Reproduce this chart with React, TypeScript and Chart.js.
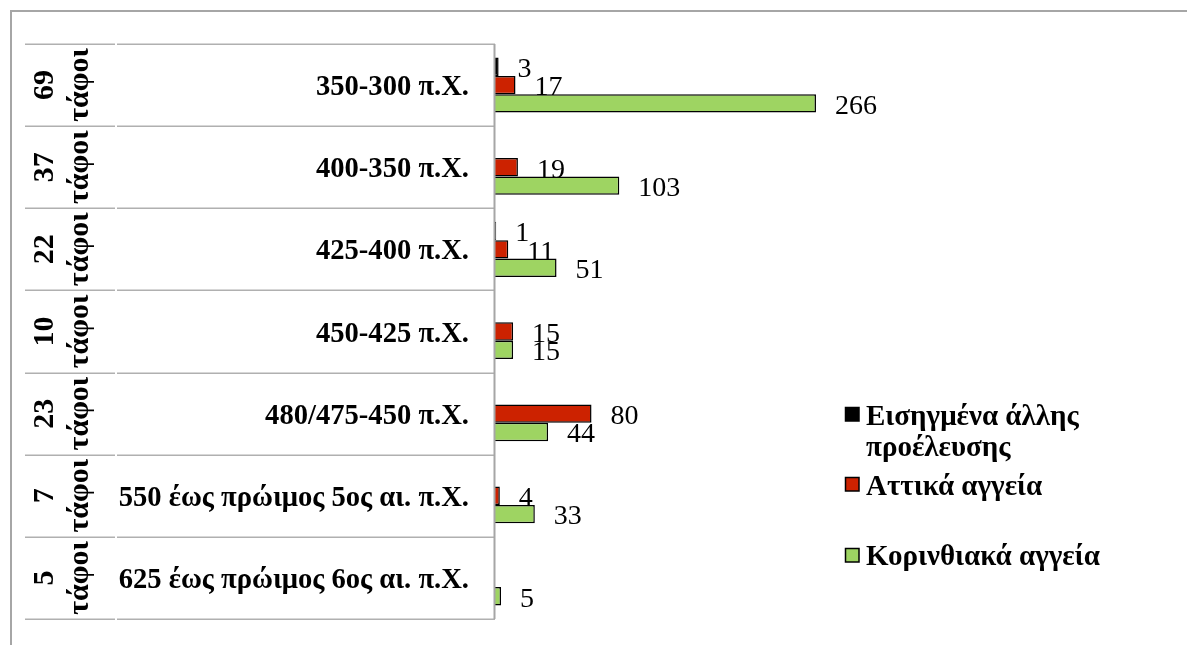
import React, { useEffect, useRef } from "react";
import { Chart, registerables } from "chart.js";

Chart.register(...registerables);

// ---- data ----
const periods = [
  "350-300 π.Χ.",
  "400-350 π.Χ.",
  "425-400 π.Χ.",
  "450-425 π.Χ.",
  "480/475-450 π.Χ.",
  "550 έως πρώιμος 5ος αι. π.Χ.",
  "625 έως πρώιμος 6ος αι. π.Χ.",
];
const tombCounts = ["69", "37", "22", "10", "23", "7", "5"];
const tombWord = "τάφοι";

const seriesNames = ["Εισηγμένα άλλης προέλευσης", "Αττικά αγγεία", "Κορινθιακά αγγεία"];
const legendLines = [["Εισηγμένα άλλης", "προέλευσης"], ["Αττικά αγγεία"], ["Κορινθιακά αγγεία"]];
const otherOrigin = [3, null, 1, null, null, null, null];
const atticVases = [17, 19, 11, 15, 80, 4, null];
const corinthianVases = [266, 103, 51, 15, 44, 33, 5];
const seriesColors = ["#000000", "#CC2200", "#9ED462"];
const xMax = 300;

const SERIF = '"Liberation Serif", "DejaVu Serif", serif';

const framePlugin = {
  id: "frameAndTable",
  afterDraw(chart: any) {
    const ctx = chart.ctx;
    const y = chart.scales.y;
    const area = chart.chartArea;
    ctx.save();
    // outer frame (top + left)
    ctx.strokeStyle = "#a6a6a6";
    ctx.lineWidth = 2;
    ctx.beginPath();
    ctx.moveTo(11, 645);
    ctx.lineTo(11, 11);
    ctx.lineTo(1187, 11);
    ctx.stroke();

    const n = periods.length;
    const c0 = y.getPixelForValue(0);
    const c1 = y.getPixelForValue(1);
    const half = (c1 - c0) / 2;

    // table lines
    ctx.strokeStyle = "#b0b0b0";
    ctx.lineWidth = 1.5;
    for (let i = 0; i <= n; i++) {
      const yy = Math.round(c0 - half + i * 2 * half) + 0.25;
      ctx.beginPath();
      ctx.moveTo(25, yy);
      ctx.lineTo(115, yy);
      ctx.moveTo(117, yy);
      ctx.lineTo(area.left, yy);
      ctx.stroke();
    }
    // axis line
    ctx.strokeStyle = "#a6a6a6";
    ctx.lineWidth = 2;
    ctx.beginPath();
    ctx.moveTo(area.left - 0.5, area.top);
    ctx.lineTo(area.left - 0.5, area.bottom);
    ctx.stroke();

    // labels
    ctx.fillStyle = "#000";
    for (let i = 0; i < n; i++) {
      const cy = y.getPixelForValue(i);
      ctx.font = `bold 28.6px ${SERIF}`;
      ctx.textAlign = "right";
      ctx.textBaseline = "alphabetic";
      ctx.fillText(periods[i], 469, cy + 10);
      ctx.save();
      ctx.font = `bold 30px ${SERIF}`;
      ctx.translate(0, cy);
      ctx.rotate(-Math.PI / 2);
      ctx.textAlign = "center";
      ctx.fillText(tombCounts[i], 0, 53);
      ctx.fillText(tombWord, 0, 88);
      ctx.restore();
    }

    // value labels
    ctx.font = `28px ${SERIF}`;
    ctx.textAlign = "left";
    ctx.textBaseline = "middle";
    chart.data.datasets.forEach((ds: any, di: number) => {
      const meta = chart.getDatasetMeta(di);
      meta.data.forEach((el: any, i: number) => {
        const v = ds.data[i];
        if (v === null || v === undefined) return;
        ctx.fillText(String(v), el.x + 19, el.y + 3);
      });
    });

    // legend
    const items = [
      { sq: 407, lines: [425, 456] },
      { sq: 477, lines: [495] },
      { sq: 548, lines: [565] },
    ];
    ctx.font = `bold 29px ${SERIF}`;
    ctx.textBaseline = "alphabetic";
    items.forEach((it, k) => {
      ctx.fillStyle = seriesColors[k];
      ctx.fillRect(845, it.sq, 14, 14);
      ctx.strokeStyle = "#000";
      ctx.lineWidth = 1.5;
      ctx.strokeRect(845.5, it.sq + 0.5, 13.5, 13.5);
      ctx.fillStyle = "#000";
      legendLines[k].forEach((t, j) => ctx.fillText(t, 866, it.lines[j]));
    });
    ctx.restore();
  },
};

export default function App() {
  const ref = useRef<HTMLCanvasElement | null>(null);
  useEffect(() => {
    if (!ref.current) return;
    const chart = new Chart(ref.current, {
      type: "bar",
      data: {
        labels: periods,
        datasets: [otherOrigin, atticVases, corinthianVases].map((d, i) => ({
          label: seriesNames[i],
          data: d,
          backgroundColor: seriesColors[i],
          borderColor: "#000",
          borderWidth: 1.5,
          categoryPercentage: 0.67,
          barPercentage: 1,
        })),
      },
      options: {
        indexAxis: "y",
        animation: false,
        responsive: false,
        maintainAspectRatio: false,
        layout: { padding: { left: 495, top: 44, right: 1187 - 857, bottom: 26 } },
        scales: {
          x: { display: false, min: 0, max: xMax },
          y: { display: false, offset: true },
        },
        plugins: { legend: { display: false }, tooltip: { enabled: false } },
      },
      plugins: [framePlugin],
    } as any);
    return () => chart.destroy();
  }, []);
  return (
    <div style={{ position: "fixed", left: 0, top: 0, width: 1187, height: 645, background: "#fff" }}>
      <canvas ref={ref} width={1187} height={645} style={{ display: "block" }} />
    </div>
  );
}
